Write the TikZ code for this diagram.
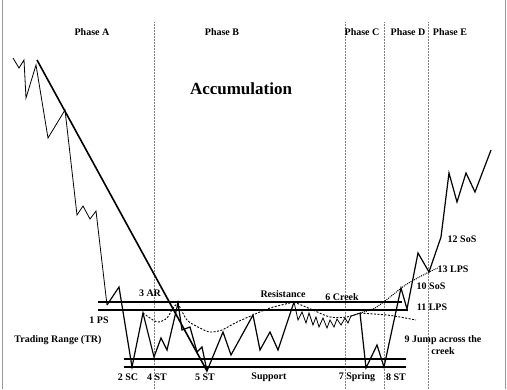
\documentclass[tikz,border=0pt]{standalone}
\usepackage{fontspec}
\setmainfont{Liberation Serif}
\usetikzlibrary{positioning}

\tikzset{
  lbl/.style={font=\bfseries\fontsize{10}{12}\selectfont, inner sep=0pt, align=center},
  phasesep/.style={gray, densely dotted, line width=0.5pt},
  level/.style={line width=1.2pt},
  trend/.style={line width=1.6pt},
  price/.style={line width=1.2pt, line join=miter},
  thinprice/.style={line width=0.8pt},
  avg/.style={line width=0.9pt, dash pattern=on 2pt off 1.5pt},
  rise/.style={line width=1pt, densely dotted},
}

\begin{document}
\begin{tikzpicture}[x=1pt, y=-1pt]
    \useasboundingbox (0,0) rectangle (507,389);
    % frame sides
    \draw[gray!80, line width=0.6pt] (2,0) -- (2,389) (505,0) -- (505,389);
    % phase separators
    \foreach \x in {154,345,384,428}
        \draw[phasesep] (\x,22) -- (\x,389);
    \node[lbl] (phaseA) at (92,32) {Phase A};
    \node[lbl] (phaseB) at (222,32) {Phase B};
    \node[lbl] (phaseC) at (362,32) {Phase C};
    \node[lbl] (phaseD) at (408,32) {Phase D};
    \node[lbl] (phaseE) at (450,32) {Phase E};
    \node[font=\bfseries\fontsize{17}{20}\selectfont] (title) at (241,89) {Accumulation};

    % resistance and support
    \draw[level] (98,302) -- (402,302);
    \draw[level] (98,310) -- (408,310);
    \draw[level] (124,359) -- (406,359);
    \draw[level] (124,367) -- (406,367);

    % key points
    \coordinate (top) at (37,60);
    \coordinate (ps) at (107,305);
    \coordinate (sc) at (132,367);
    \coordinate (ar) at (143,313);
    \coordinate (st4) at (154,357);
    \coordinate (up) at (178,303);
    \coordinate (st5) at (207,371);
    \coordinate (res) at (294,302);
    \coordinate (creek) at (360,313);
    \coordinate (spring) at (366,368);
    \coordinate (st8) at (384,367);
    \coordinate (lps11) at (407,309);
    \coordinate (lps13) at (429,272);

    % down trend line
    \draw[trend] (top) -- (st5);

    % price before the range
    \draw[thinprice] (13,58) -- (19,68) -- (24,60) -- (26,98) -- (36,65) -- (48,138)
        -- (65,110) -- (77,215) -- (83,206) -- (90,219) -- (96,211) -- (ps);
    % price in the range and the markup
    \draw[price] (ps) -- (119,287) -- (sc) -- (ar) -- (st4) -- (161,338) -- (167,350)
        -- (up) -- (182,330) -- (190,327) -- (197,352) -- (202,347) -- (st5)
        -- (223,332) -- (231,355) -- (253,315) -- (260,350) -- (270,332) -- (278,350) -- (res);
    \draw[thinprice] (res) -- (298,320) -- (302,312) -- (306,323) -- (309,313) -- (313,325)
        -- (316,317) -- (319,327) -- (323,318) -- (327,328) -- (330,320) -- (334,327)
        -- (337,319) -- (341,325) -- (345,318) -- (348,323) -- (351,316) -- (creek);
    \draw[price] (creek) -- (spring) -- (377,345) -- (st8) -- (401,288) -- (lps11)
        -- (418,253) -- (lps13) -- (441,237) -- (449,173) -- (457,202) -- (466,173)
        -- (475,192) -- (491,150);

    % moving averages
    \draw[avg] plot[smooth] coordinates {(ar) (153,320) (159,322) (167,318) (173,308) (up)};
    \draw[avg] plot[smooth] coordinates {(up) (187,320) (200,328) (210,332) (222,330)
        (235,323) (253,315) (270,308) (res)};
    \draw[avg] plot[smooth] coordinates {(res) (313,310) (330,317) (347,317) (creek)};
    \draw[avg] plot[smooth] coordinates {(creek) (387,315) (400,317) (416,320)};
    \draw[rise] plot[smooth] coordinates {(creek) (375,308) (390,297) (407,284) (lps13) (438,268)};

    % labels
    \node[lbl] (psl) at (99,320) {1 PS};
    \node[lbl] (trl) at (58,340) {Trading Range (TR)};
    \node[lbl] (arl) at (150,293) {3 AR};
    \node[lbl] (scl) at (128,377) {2 SC};
    \node[lbl] (st4l) at (157,377) {4 ST};
    \node[lbl] (st5l) at (205,377) {5 ST};
    \node[lbl] (supl) at (269,377) {Support};
    \node[lbl] (resl) at (283,294) {Resistance};
    \node[lbl] (crkl) at (342,297) {6 Creek};
    \node[lbl] (sprl) at (357,377) {7 Spring};
    \node[lbl] (st8l) at (396,377) {8 ST};
    \node[lbl] (jmpl) at (443,345) {9 Jump across the\\creek};
    \node[lbl] (sos10l) at (431,286) {10 SoS};
    \node[lbl] (lps11l) at (432,307) {11 LPS};
    \node[lbl] (lps13l) at (453,269) {13 LPS};
    \node[lbl] (sos12l) at (462,239) {12 SoS};
\end{tikzpicture}
\end{document}
